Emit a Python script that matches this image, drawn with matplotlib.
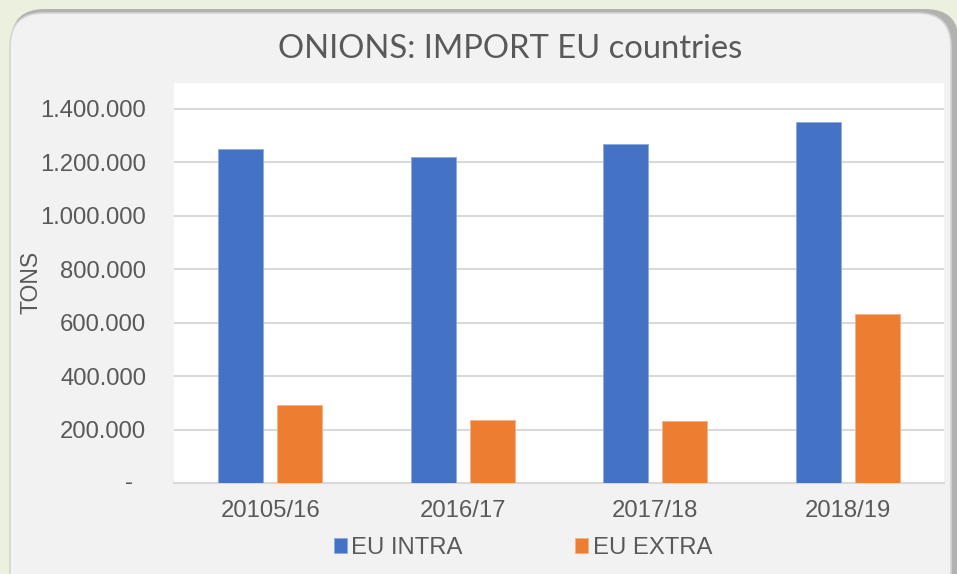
import matplotlib
matplotlib.use("Agg")
import matplotlib.pyplot as plt
from matplotlib.patches import FancyBboxPatch
from matplotlib.transforms import blended_transform_factory
import numpy as np

categories = ["20105/16", "2016/17", "2017/18", "2018/19"]
eu_intra = [1250000, 1220000, 1270000, 1352000]
eu_extra = [292000, 236000, 233000, 633000]
yticks = [0, 200000, 400000, 600000, 800000, 1000000, 1200000, 1400000]
ytick_labels = ["-", "200.000", "400.000", "600.000", "800.000", "1.000.000", "1.200.000", "1.400.000"]

W, H = 957, 574
fig = plt.figure(figsize=(W / 100, H / 100), dpi=100)
fig.patch.set_facecolor("#ebf1de")

# shadow + panel
shadow = FancyBboxPatch((11 / W, -0.2), (W + 2) / W - 11 / W, (H - 9) / H + 0.2,
                        boxstyle="round,pad=0,rounding_size=0.035",
                        transform=fig.transFigure, facecolor="#a8a8a8", edgecolor="none",
                        alpha=0.85, zorder=0, mutation_aspect=W / H)
fig.patches.append(shadow)
panel = FancyBboxPatch((10 / W, -0.2), (W - 6) / W - 10 / W, (H - 13) / H + 0.2,
                       boxstyle="round,pad=0,rounding_size=0.035",
                       transform=fig.transFigure, facecolor="#f2f2f2", edgecolor="#d4d4d4",
                       linewidth=1.2, zorder=1, mutation_aspect=W / H)
fig.patches.append(panel)

left, right, bottom, topgrid = 174, 944, 483, 109
plot_top = 83
ax = fig.add_axes([left / W, (H - bottom) / H, (right - left) / W, (bottom - plot_top) / H])
ax.set_zorder(2)
ax.set_facecolor("white")
ymax = 1400000 + (topgrid - plot_top) / ((bottom - topgrid) / 1400000)
ax.set_ylim(0, ymax)
ax.set_xlim(-0.5, len(categories) - 0.5)

x = np.arange(len(categories))
bw = 0.234
off = 0.153
ax.bar(x - off, eu_intra, width=bw, color="#4472c4", edgecolor="#8faadc", linewidth=0.6,
       zorder=3, label="EU INTRA")
ax.bar(x + off, eu_extra, width=bw, color="#ed7d31", edgecolor="#f4b183", linewidth=0.6,
       zorder=3, label="EU EXTRA")

ax.set_yticks(yticks)
# zero label ("-") is drawn separately, indented as in accounting format
ax.set_yticklabels([""] + ytick_labels[1:])
ax.yaxis.grid(True, color="#d9d9d9", linewidth=1.5, zorder=0)
ax.set_axisbelow(True)
ax.set_xticks(x)
ax.set_xticklabels(categories)
for s in ["top", "right", "left"]:
    ax.spines[s].set_visible(False)
ax.spines["bottom"].set_color("#d9d9d9")
ax.spines["bottom"].set_linewidth(1.5)
ax.tick_params(axis="both", length=0, labelsize=17.2, labelcolor="#595959",
               labelfontfamily="Liberation Sans")
ax.tick_params(axis="y", pad=20)
ax.tick_params(axis="x", pad=12)

trans = blended_transform_factory(fig.transFigure, ax.transData)
ax.text(129 / W, yticks[0], ytick_labels[0], transform=trans, ha="center", va="center",
        fontsize=17.2, color="#595959", family="Liberation Sans", clip_on=False)

fig.text(31 / W, 1 - 282 / H, "TONS", rotation=90, ha="center", va="center",
         fontsize=16.5, color="#595959", family="Liberation Sans", zorder=5)
fig.text(510 / W, 1 - 49 / H, "ONIONS: IMPORT EU countries", ha="center", va="center",
         fontsize=23.6, color="#595959", family="Lato", zorder=5)

leg = fig.legend(loc="center", bbox_to_anchor=(523 / W, 1 - 548 / H), ncol=2,
                 frameon=False, handlelength=0.55, handleheight=0.55,
                 handletextpad=0.2, columnspacing=4.7,
                 prop={"family": "Liberation Sans", "size": 17.2})
for t in leg.get_texts():
    t.set_color("#595959")

fig.savefig("out.png", dpi=100, facecolor=fig.get_facecolor())
